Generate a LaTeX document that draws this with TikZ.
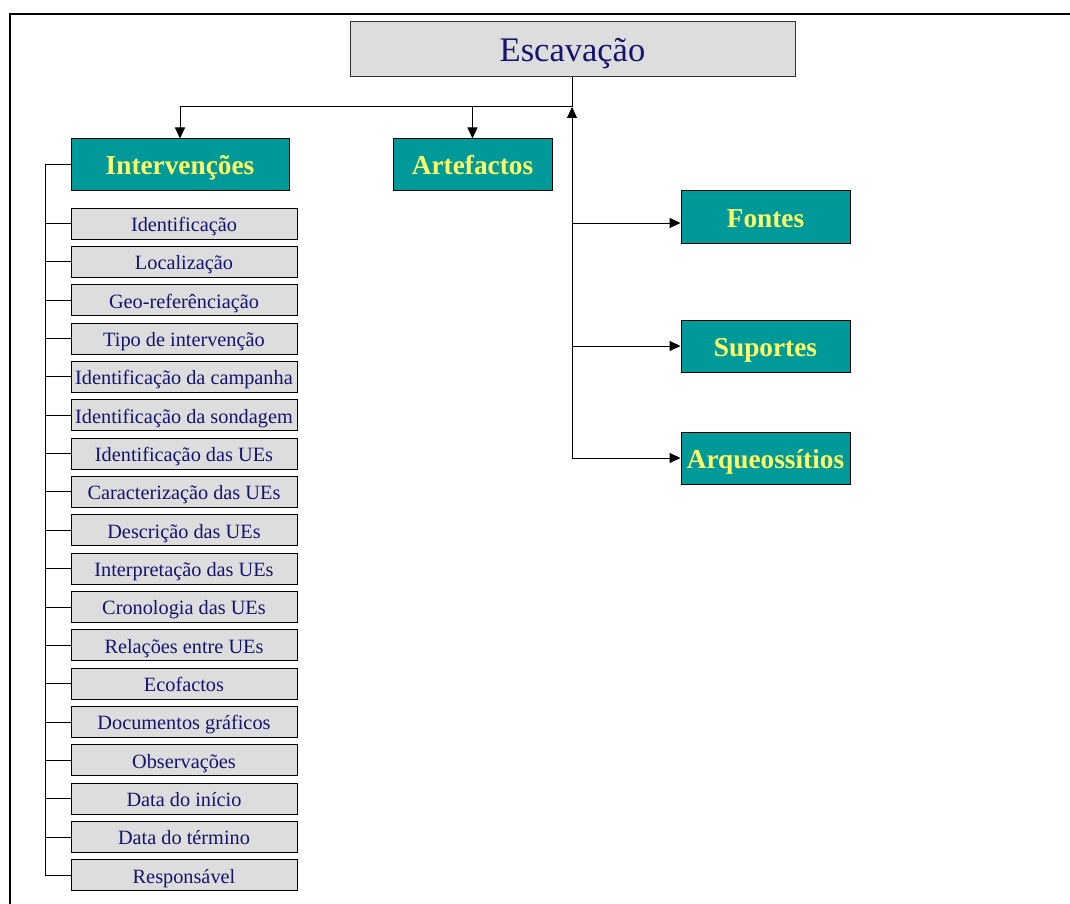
\documentclass[tikz,border=0pt]{standalone}
\usepackage{fontspec}
\setmainfont{Liberation Serif}
\usetikzlibrary{arrows.meta}
\definecolor{teal1}{RGB}{0,153,153}
\definecolor{yel}{RGB}{255,255,102}
\definecolor{boxgray}{RGB}{221,221,221}
\definecolor{navy}{RGB}{20,20,110}
\definecolor{edge}{RGB}{50,50,50}
\begin{document}
\begin{tikzpicture}[x=1pt,y=-1pt,
  topbox/.style={draw=edge,line width=1pt,fill=boxgray,minimum width=445pt,minimum height=55pt,inner sep=0pt,text=navy,font=\fontsize{34.5}{38}\selectfont,text height=31pt,text depth=6pt},
  tealbox/.style={draw=black,line width=1pt,fill=teal1,minimum height=52pt,inner sep=0pt,text=yel,font=\fontsize{27.3}{30}\selectfont\bfseries,text height=25pt,text depth=5pt},
  itembox/.style={draw=black,line width=1pt,fill=boxgray,minimum width=226pt,minimum height=31pt,inner sep=0pt,text=navy,font=\fontsize{20.3}{22}\selectfont,text height=18pt,text depth=2.4pt},
  conn/.style={line width=1pt,draw=black},
  arr/.style={conn,-{Triangle[length=11pt,width=10pt]}}]
\useasboundingbox (0,0) rectangle (1070,904);
\draw[line width=1.2pt] (10,904) -- (10,14) -- (1070,14);
\node[topbox] (esc) at (572.5,49.5) {Escavação};
\node[tealbox,minimum width=218pt] (interv) at (180,165) {Intervenções};
\node[tealbox,minimum width=159pt] (artef) at (472.5,165) {Artefactos};
\node[tealbox,minimum width=169pt] (fontes) at (765.5,217) {Fontes};
\node[tealbox,minimum width=169pt] (suport) at (765.5,346) {Suportes};
\node[tealbox,minimum width=169pt] (arqueo) at (765.5,458) {Arqueossítios};
\coordinate (junc) at (572,107);
\coordinate (trunkbot) at (572,458);
\coordinate (fbranch) at (572,223);
\draw[conn] (esc.south -| junc) -- (junc);
\draw[arr] (junc) -| (interv.north);
\draw[arr] (junc) -| (artef.north);
\draw[arr] (trunkbot) -- (junc);
\draw[arr] (fbranch) -- (fbranch -| fontes.west);
\draw[arr] (junc |- suport.west) -- (suport.west);
\draw[arr] (trunkbot) -- (arqueo.west);
\foreach \t [count=\i] in {Identificação,Localização,Geo-referênciação,Tipo de intervenção,Identificação da campanha,Identificação da sondagem,Identificação das UEs,Caracterização das UEs,Descrição das UEs,Interpretação das UEs,Cronologia das UEs,Relações entre UEs,Ecofactos,Documentos gráficos,Observações,Data do início,Data do término,Responsável}{
  \node[itembox] (it\i) at (184,{223.5+(\i-1)*38.35}) {\t};
}
\coordinate (spine) at (45,165);
\draw[conn] (interv.west) -- (spine) |- (it18.west);
\foreach \i in {1,...,17}{
  \draw[conn] (spine |- it\i.west) -- (it\i.west);
}
\end{tikzpicture}
\end{document}
